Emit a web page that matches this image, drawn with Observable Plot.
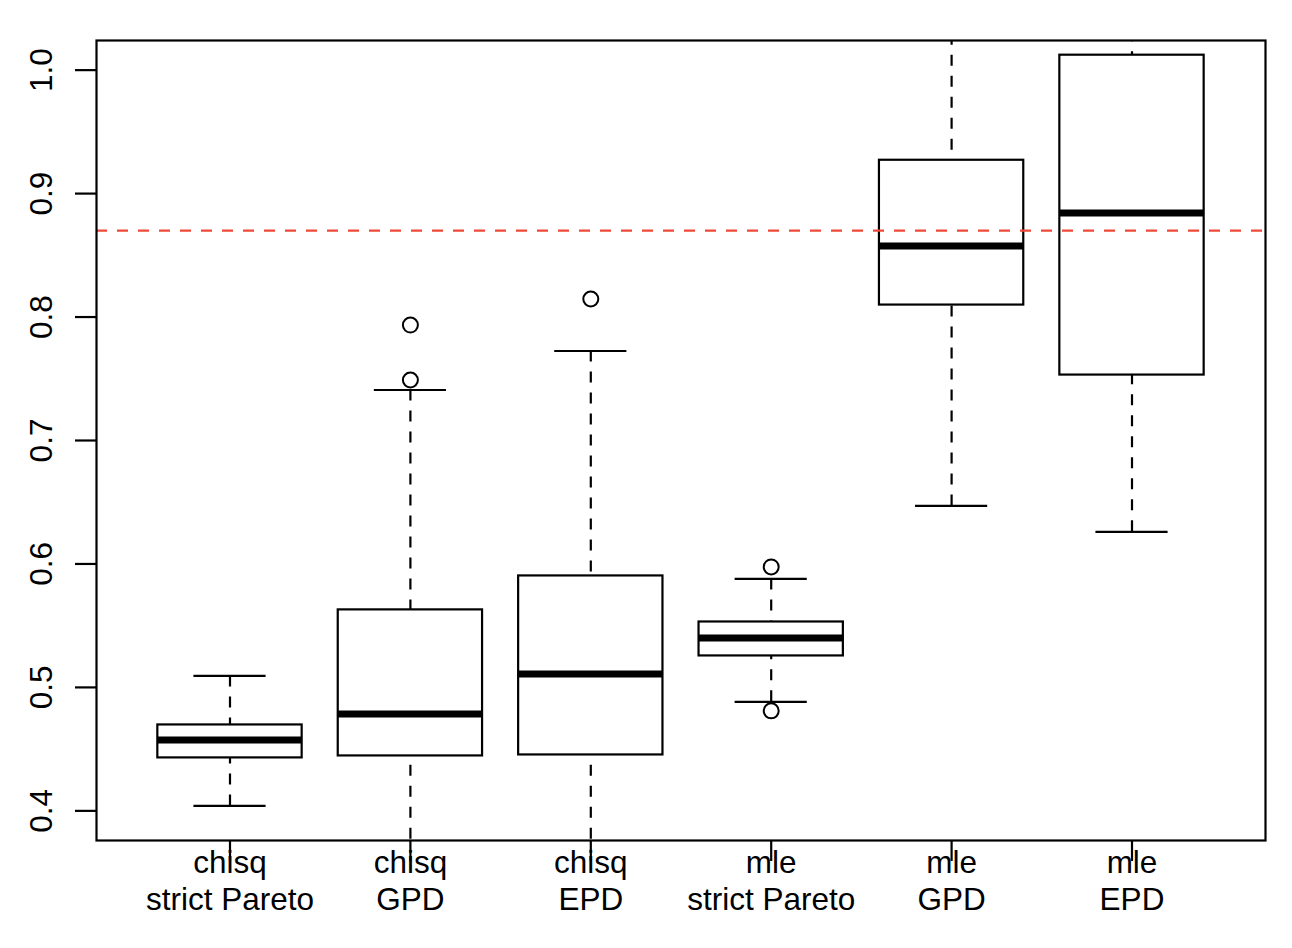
<!DOCTYPE html>
<html>
<head>
<meta charset="utf-8">
<script src="https://cdn.jsdelivr.net/npm/d3@7"></script>
<script src="https://cdn.jsdelivr.net/npm/@observablehq/plot@0.6"></script>
<style>
  html, body { margin: 0; padding: 0; background: white; }
  #chart svg { display: block; }
</style>
</head>
<body>
<div id="chart"></div>
<script>
// Category labels (two lines each)
const method = ["chisq", "chisq", "chisq", "mle", "mle", "mle"];
const model = ["strict Pareto", "GPD", "EPD", "strict Pareto", "GPD", "EPD"];

// Box statistics
const whiskerLow  = [0.404, 0.36, 0.36, 0.4883, 0.647, 0.626];
const q1          = [0.4429, 0.4445, 0.4453, 0.5255, 0.8097, 0.753];
const median      = [0.4575, 0.4785, 0.5109, 0.540, 0.8575, 0.8842];
const q3          = [0.4696, 0.5628, 0.5903, 0.553, 0.927, 1.0121];
const whiskerHigh = [0.5093, 0.7409, 0.7725, 0.5879, 1.08, 1.10];

// Outliers: group index (1-based) and value
const outlierGroup = [2, 2, 3, 4, 4];
const outlierValue = [0.7935, 0.749, 0.8146, 0.5976, 0.481];

// Reference line and y ticks
const refLine = 0.87;
const yTicks = [0.4, 0.5, 0.6, 0.7, 0.8, 0.9, 1.0];

const boxes = method.map((m, k) => ({
  i: k + 1, line1: m, line2: model[k],
  lo: whiskerLow[k], q1: q1[k], med: median[k], q3: q3[k], hi: whiskerHigh[k]
}));
const outliers = outlierGroup.map((g, k) => ({i: g, v: outlierValue[k]}));

const FS = 31.5;
const LW = 2.2;
const HALF = 0.4, CAP = 0.2;

const chart = Plot.plot({
  width: 1292,
  height: 948,
  marginLeft: 96,
  marginRight: 27,
  marginTop: 40,
  marginBottom: 108,
  x: {type: "linear", domain: [0.26, 6.74]},
  y: {type: "linear", domain: [0.376, 1.024]},
  style: {fontFamily: "'Liberation Sans', Arial, Helvetica, sans-serif", fontSize: FS + "px", background: "white", color: "black"},
  marks: [
    // whiskers (dashed), from whisker end to box edge
    Plot.ruleX(boxes, {x: "i", y1: "hi", y2: "q3", stroke: "black", strokeWidth: LW, strokeDasharray: "11,10", clip: true}),
    Plot.ruleX(boxes, {x: "i", y1: "lo", y2: "q1", stroke: "black", strokeWidth: LW, strokeDasharray: "11,10", clip: true}),
    // whisker caps
    Plot.ruleY(boxes, {y: "hi", x1: d => d.i - CAP, x2: d => d.i + CAP, stroke: "black", strokeWidth: LW, clip: true}),
    Plot.ruleY(boxes, {y: "lo", x1: d => d.i - CAP, x2: d => d.i + CAP, stroke: "black", strokeWidth: LW, clip: true}),
    // boxes
    Plot.rect(boxes, {x1: d => d.i - HALF, x2: d => d.i + HALF, y1: "q1", y2: "q3", fill: "white", stroke: "black", strokeWidth: LW, clip: true}),
    // medians
    Plot.ruleY(boxes, {y: "med", x1: d => d.i - HALF, x2: d => d.i + HALF, stroke: "black", strokeWidth: 7, clip: true}),
    // outliers
    Plot.dot(outliers, {x: "i", y: "v", r: 7.5, stroke: "black", strokeWidth: 2, fill: "none", clip: true}),
    // reference line
    Plot.ruleY([refLine], {stroke: "#ee4a38", strokeWidth: 2.2, strokeDasharray: "11,10"}),
    // frame
    Plot.frame({stroke: "black", strokeWidth: LW}),
    // y axis
    Plot.axisY(yTicks, {tickSize: 21, tickRotate: -90, tickPadding: 24, tickFormat: d3.format(".1f"), fontSize: FS, strokeWidth: LW, label: null}),
    // x axis ticks
    Plot.axisX(boxes.map(d => d.i), {tickSize: 21, tickFormat: () => "", strokeWidth: LW, label: null}),
    // x labels (two lines)
    Plot.text(boxes, {x: "i", text: "line1", frameAnchor: "bottom", lineAnchor: "bottom", dy: 32, fontSize: FS, fill: "black"}),
    Plot.text(boxes, {x: "i", text: "line2", frameAnchor: "bottom", lineAnchor: "bottom", dy: 69, fontSize: FS, fill: "black"})
  ]
});
document.getElementById("chart").appendChild(chart);
</script>
</body>
</html>
